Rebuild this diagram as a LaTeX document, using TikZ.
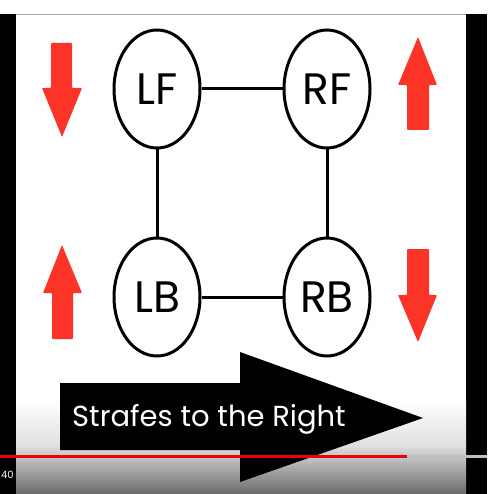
\documentclass[tikz,border=0pt]{standalone}
\usepackage{fontspec}
\setmainfont{Poppins}
\usetikzlibrary{positioning,shapes.geometric}
\definecolor{arrowred}{RGB}{252,52,40}
\definecolor{barred}{RGB}{238,0,0}

\begin{document}
\begin{tikzpicture}[x=1pt, y=-1pt, node distance=81pt,
    wheel/.style={draw, ellipse, line width=3pt, minimum width=86pt, minimum height=118pt, inner sep=0pt, font=\fontsize{44}{44}\selectfont},
    link/.style={line width=3pt},
    pusharrow/.style={fill=arrowred, rounded corners=0.8pt}]
    % video frame
    \useasboundingbox (0,0) rectangle (487,494);
    \fill[white] (0,0) rectangle (487,494);
    \fill[black] (0,14) rectangle (16,494);
    \fill[black] (466,14) rectangle (487,494);
    \shade[top color=white, bottom color=black!12] (16,400) rectangle (466,445);
    \shade[top color=black!12, bottom color=black!58] (16,445) rectangle (466,494);
    \draw[black!35, line width=1pt] (16,14.5) -- (466,14.5);

    % wheels
    \node[wheel] (lf) at (157,89) {LF};
    \node[wheel, right=of lf] (rf) {RF};
    \node[wheel, below=87pt of lf] (lb) {LB};
    \node[wheel, right=of lb] (rb) {RB};
    \draw[link] (lf) -- (rf);
    \draw[link] (lb) -- (rb);
    \draw[link] (lf) -- (lb);
    \draw[link] (rf) -- (rb);

    % wheel directions
    \fill[pusharrow] (51,43) -- (72,43) -- (72,88) -- (82,88) -- (62,137) -- (42,88) -- (51,88) -- cycle;
    \fill[pusharrow] (418,37) -- (437,85) -- (429,85) -- (429,130) -- (407,130) -- (407,85) -- (398,85) -- cycle;
    \fill[pusharrow] (62,245) -- (82,293) -- (73,293) -- (73,339) -- (52,339) -- (52,293) -- (43,293) -- cycle;
    \fill[pusharrow] (407,249) -- (429,249) -- (429,295) -- (437,295) -- (418,342) -- (398,295) -- (407,295) -- cycle;

    % strafe arrow
    \fill[black] (60,383) -- (240,383) -- (240,352) -- (423,418) -- (240,482) -- (240,450) -- (60,450) -- cycle;
    \node[text=white, anchor=base west, inner sep=0pt, font=\fontsize{29}{29}\selectfont] (strafe) at (72,426) {Strafes to the Right};

    % player bar
    \fill[barred] (0,454.5) rectangle (407,457.5);
    \fill[black!25] (407,454.5) rectangle (487,457.5);
    \node[text=white, anchor=west, inner sep=0pt, font=\fontsize{10}{10}\selectfont] (time) at (1,475) {40};
\end{tikzpicture}
\end{document}
